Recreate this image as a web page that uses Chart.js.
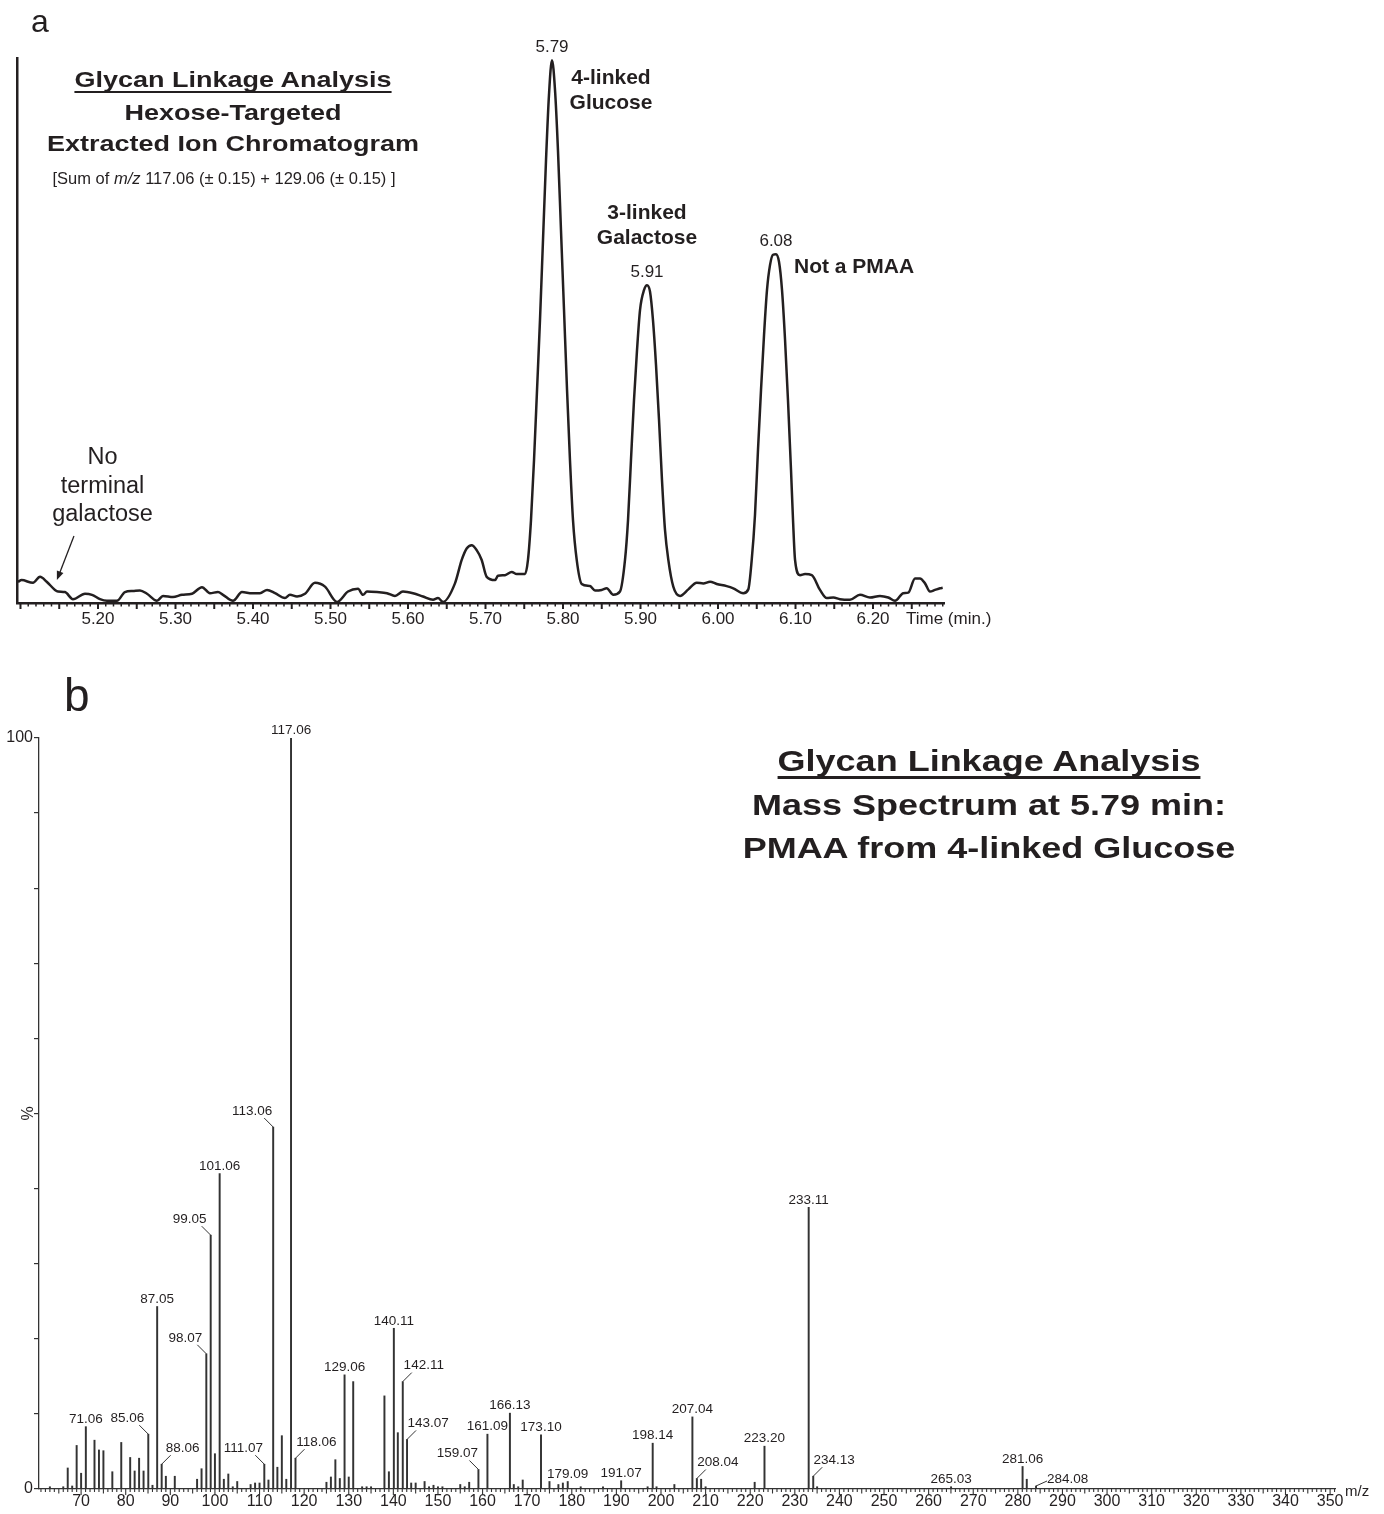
<!DOCTYPE html>
<html>
<head>
<meta charset="utf-8">
<title>Glycan linkage analysis</title>
<script src="https://cdn.jsdelivr.net/npm/chart.js@4.4.1/dist/chart.umd.min.js"></script>
<style>
  html, body { margin: 0; padding: 0; background: #fff; }
  body { position: relative; width: 1384px; height: 1514px; overflow: hidden;
         font-family: 'Liberation Sans', Arial, Helvetica, sans-serif; color: #231f20; }
  canvas { position: absolute; left: 0; }
  #chromCanvas { top: 0; }
  #specCanvas { top: 650px; }
  .t { position: absolute; line-height: 1; white-space: nowrap; }
  .c { transform: translateX(-50%); }
  .w { transform: translateX(-50%) scaleX(1.2); }
  .b { font-weight: bold; }
  .u { text-decoration: underline; text-decoration-skip-ink: none; }
</style>
</head>
<body>
<canvas id="chromCanvas" width="1384" height="650"></canvas>
<canvas id="specCanvas" width="1384" height="864"></canvas>

<!-- panel a text -->
<div class="t" style="left:31px; top:5px; font-size:32px;">a</div>
<div class="t b w u" style="left:233px; top:68.5px; font-size:22.5px; text-decoration-thickness:2px; text-underline-offset:4px;">Glycan Linkage Analysis</div>
<div class="t b w" style="left:233px; top:101.5px; font-size:22.5px;">Hexose-Targeted</div>
<div class="t b w" style="left:233px; top:133px; font-size:22.5px;">Extracted Ion Chromatogram</div>
<div class="t c" style="left:224px; top:169.5px; font-size:16.5px;">[Sum of <i>m/z</i> 117.06 (± 0.15) + 129.06 (± 0.15) ]</div>
<div class="t b c" style="left:611px; top:66px; font-size:21px;">4-linked</div>
<div class="t b c" style="left:611px; top:91px; font-size:21px;">Glucose</div>
<div class="t b c" style="left:647px; top:200.5px; font-size:21px;">3-linked</div>
<div class="t b c" style="left:647px; top:225.5px; font-size:21px;">Galactose</div>
<div class="t b" style="left:794px; top:254.5px; font-size:21px;">Not a PMAA</div>
<div class="t c" style="left:102.5px; top:445px; font-size:23.5px;">No</div>
<div class="t c" style="left:102.5px; top:474px; font-size:23.5px;">terminal</div>
<div class="t c" style="left:102.5px; top:502px; font-size:23.5px;">galactose</div>

<!-- panel b text -->
<div class="t" style="left:64px; top:672px; font-size:46px;">b</div>
<div class="t b w u" style="left:989px; top:745.6px; font-size:30px; text-decoration-thickness:2.5px; text-underline-offset:5px;">Glycan Linkage Analysis</div>
<div class="t b w" style="left:989px; top:789.6px; font-size:30px;">Mass Spectrum at 5.79 min:</div>
<div class="t b w" style="left:989px; top:832.6px; font-size:30px;">PMAA from 4-linked Glucose</div>

<script>
// ---------- panel a: hexose-targeted extracted ion chromatogram ----------
const chromTime = [
  5.0968, 5.1015, 5.1161, 5.1252, 5.1338, 5.1445, 5.1484, 5.1574, 5.1677, 5.1832,
  5.1923, 5.2026, 5.2116, 5.2245, 5.2348, 5.2452, 5.2542, 5.2632, 5.2761, 5.2839,
  5.2968, 5.3084, 5.3213, 5.3342, 5.3445, 5.3548, 5.3613, 5.3742, 5.3858, 5.3987,
  5.4090, 5.4181, 5.4284, 5.4413, 5.4477, 5.4568, 5.4671, 5.4800, 5.4929, 5.5084,
  5.5226, 5.5355, 5.5419, 5.5471, 5.5600, 5.5729, 5.5832, 5.5935, 5.6065, 5.6194,
  5.6323, 5.6387, 5.6452, 5.6606, 5.6693, 5.6757, 5.6822, 5.6886, 5.6951, 5.7015,
  5.7123, 5.7161, 5.7252, 5.7338, 5.7403, 5.7510,
  5.7548, 5.7587, 5.7626, 5.7665, 5.7703, 5.7742, 5.7781, 5.7819, 5.7858, 5.7897,
  5.7935, 5.7974, 5.8013, 5.8052, 5.8090, 5.8129, 5.8177,
  5.8241, 5.8348, 5.8413, 5.8499, 5.8564, 5.8649, 5.8735, 5.8800,
  5.8839, 5.8877, 5.8916, 5.8955, 5.8994, 5.9045, 5.9084, 5.9123, 5.9161, 5.9200,
  5.9239, 5.9277, 5.9316, 5.9359,
  5.9423, 5.9510, 5.9617, 5.9725, 5.9810, 5.9897, 5.9983, 6.0112, 6.0197, 6.0326,
  6.0391, 6.0435,
  6.0477, 6.0516, 6.0555, 6.0594, 6.0632, 6.0671, 6.0710, 6.0748, 6.0787, 6.0826,
  6.0865, 6.0903, 6.0942, 6.0968, 6.0994,
  6.1058, 6.1123, 6.1210, 6.1316, 6.1403, 6.1488, 6.1574, 6.1703, 6.1832, 6.1961,
  6.2090, 6.2197, 6.2284, 6.2391, 6.2455, 6.2542, 6.2606, 6.2671, 6.2735, 6.2800,
  6.2865, 6.2899
];
const chromSignal = [
  3.9, 4.2, 3.7, 4.8, 3.9, 2.4, 2.1, 2.0, 0.7, 1.7,
  1.5, 0.7, 0.4, 0.4, 2.0, 2.2, 2.3, 1.7, 0.4, 1.3,
  1.1, 1.5, 1.7, 2.9, 1.8, 2.0, 1.5, 0.4, 2.0, 1.8,
  1.8, 2.4, 1.8, 0.9, 1.5, 1.2, 1.7, 3.7, 3.0, 0.2,
  2.1, 2.6, 1.5, 2.1, 2.0, 1.8, 1.3, 2.1, 1.8, 1.2,
  0.6, 0.9, 0.2, 3.6, 7.9, 10.0, 10.6, 9.7, 7.9, 4.8,
  4.2, 5.0, 5.1, 5.7, 5.3, 5.3,
  7.9, 15.2, 26.2, 39.1, 51.9, 66.6, 81.3, 93.2, 99.6, 94.1,
  83.1, 68.4, 53.8, 39.1, 26.2, 15.2, 7.9,
  3.5, 3.1, 2.3, 2.4, 2.7, 1.5, 2.1, 7.9,
  15.2, 26.2, 37.2, 46.4, 53.8, 57.4, 58.3, 57.1, 51.9, 43.7,
  33.6, 22.6, 13.4, 7.9,
  3.0, 1.3, 2.5, 3.7, 3.6, 3.9, 3.5, 3.1, 2.7, 1.8,
  2.5, 7.9,
  16.1, 28.1, 39.1, 49.2, 57.4, 62.0, 63.9, 64.0, 62.6, 57.4,
  48.3, 37.2, 24.4, 15.2, 7.9,
  5.1, 5.3, 5.1, 2.4, 0.9, 1.0, 0.7, 0.6, 1.5, 1.0,
  1.3, 1.0, 0.4, 1.8, 1.9, 4.5, 4.5, 3.6, 2.1, 2.4,
  2.7, 2.8
];
const chromTicks = [5.2, 5.3, 5.4, 5.5, 5.6, 5.7, 5.8, 5.9, 6.0, 6.1, 6.2];
const chromPeakTimes = [5.79, 5.91, 6.08];

// ---------- panel b: mass spectrum at 5.79 min ----------
const specMz = [
  63, 66, 67, 68, 69, 70, 71.06, 73, 74, 75,
  77, 79, 81, 82, 83, 84, 85.06, 86, 87.05, 88.06,
  89, 91, 96, 97, 98.07, 99.05, 100, 101.06, 102, 103,
  104, 105, 108, 109, 110, 111.07, 112, 113.06, 114, 115,
  116, 117.06, 118.06, 125, 126, 127, 128, 129.06, 130, 131,
  133, 134, 135, 138, 139, 140.11, 141, 142.11, 143.07, 144,
  145, 147, 148, 149, 150, 151, 155, 156, 157, 159.07,
  161.09, 166.13, 167, 168, 169, 173.10, 175, 177, 178, 179.09,
  182, 187, 191.07, 197, 198.14, 199, 203, 207.04, 208.04, 209,
  210, 221, 223.20, 233.11, 234.13, 235, 265.03, 281.06, 282, 284.08
];
const specPercent = [
  0.3, 0.3, 2.8, 0.4, 5.8, 2.1, 8.3, 6.5, 5.2, 5.1,
  2.3, 6.2, 4.2, 2.4, 4.1, 2.4, 7.3, 0.5, 24.3, 3.3,
  1.7, 1.7, 1.3, 2.7, 18.0, 33.8, 4.7, 42.0, 1.3, 2.0,
  0.3, 1.0, 0.6, 0.8, 0.8, 3.3, 1.2, 48.2, 2.9, 7.1,
  1.3, 100, 4.1, 0.9, 1.6, 3.9, 1.4, 15.2, 1.6, 14.3,
  0.3, 0.3, 0.3, 12.4, 2.3, 21.4, 7.5, 14.3, 6.6, 0.8,
  0.8, 1.0, 0.3, 0.5, 0.3, 0.3, 0.6, 0.3, 0.9, 2.6,
  7.3, 10.1, 0.6, 0.3, 1.2, 7.2, 1.0, 0.6, 0.8, 1.0,
  0.3, 0.3, 1.1, 0.3, 6.1, 0.3, 0.6, 9.6, 1.4, 1.3,
  0.3, 0.9, 5.7, 37.5, 1.7, 0.3, 0.3, 3.0, 1.3, 0.4
];
const specLabelled = [
  71.06, 85.06, 87.05, 88.06, 98.07, 99.05, 101.06, 111.07, 113.06, 117.06,
  118.06, 129.06, 140.11, 142.11, 143.07, 159.07, 161.09, 166.13, 173.10, 179.09,
  191.07, 198.14, 207.04, 208.04, 223.20, 233.11, 234.13, 265.03, 281.06, 284.08
];
const specTicks = [70, 80, 90, 100, 110, 120, 130, 140, 150, 160, 170, 180, 190, 200,
  210, 220, 230, 240, 250, 260, 270, 280, 290, 300, 310, 320, 330, 340, 350];

// label placement for crowded peaks (leader line to the left / right)
const leaderLeft = [85.06, 98.07, 99.05, 111.07, 113.06, 159.07];
const leaderRight = [88.06, 118.06, 142.11, 143.07, 208.04, 234.13];
const leaderFlat = [284.08];

const FONT = "'Liberation Sans', Arial, Helvetica, sans-serif";
const INK = '#231f20';
Chart.defaults.font.family = FONT;
Chart.defaults.color = INK;

// extra drawing for the chromatogram: fine ticks, peak times, arrow, axis name
const chromDecor = {
  id: 'chromDecor',
  afterDraw(chart) {
    const { ctx, chartArea, scales: { x, y } } = chart;
    ctx.save();
    ctx.strokeStyle = INK;
    for (let i = 510; i <= 629; i++) {
      const px = x.getPixelForValue(i / 100);
      const major = i % 5 === 0;
      ctx.lineWidth = major ? 2 : 1.5;
      ctx.beginPath();
      ctx.moveTo(px, chartArea.bottom);
      ctx.lineTo(px, chartArea.bottom + (major ? 6 : 3.5));
      ctx.stroke();
    }

    // retention time above each peak
    ctx.fillStyle = INK;
    ctx.font = '17px ' + FONT;
    ctx.textAlign = 'center';
    ctx.textBaseline = 'alphabetic';
    chromPeakTimes.forEach(t => {
      let best = -1;
      chromTime.forEach((ti, i) => {
        if (Math.abs(ti - t) < 0.012 && (best < 0 || chromSignal[i] > chromSignal[best])) best = i;
      });
      const px = x.getPixelForValue(chromTime[best]);
      const py = y.getPixelForValue(chromSignal[best]);
      ctx.fillText(t.toFixed(2), px, py - 8);
    });

    // axis name at the end of the time axis
    ctx.textAlign = 'left';
    ctx.textBaseline = 'middle';
    ctx.fillText('Time (min.)', chartArea.right - 38, chartArea.bottom + 16);

    // arrow to where terminal galactose would elute
    const x0 = x.getPixelForValue(5.169), y0 = y.getPixelForValue(12.3);
    const x1 = x.getPixelForValue(5.147), y1 = y.getPixelForValue(4.2);
    const ang = Math.atan2(y1 - y0, x1 - x0);
    ctx.lineWidth = 1.3;
    ctx.beginPath();
    ctx.moveTo(x0, y0);
    ctx.lineTo(x1 - 6 * Math.cos(ang), y1 - 6 * Math.sin(ang));
    ctx.stroke();
    ctx.beginPath();
    ctx.moveTo(x1, y1);
    ctx.lineTo(x1 - 9 * Math.cos(ang) + 3.5 * Math.sin(ang), y1 - 9 * Math.sin(ang) - 3.5 * Math.cos(ang));
    ctx.lineTo(x1 - 9 * Math.cos(ang) - 3.5 * Math.sin(ang), y1 - 9 * Math.sin(ang) + 3.5 * Math.cos(ang));
    ctx.closePath();
    ctx.fill();
    ctx.restore();
  }
};

new Chart(document.getElementById('chromCanvas'), {
  type: 'line',
  data: {
    datasets: [{
      data: chromTime.map((t, i) => ({ x: t, y: chromSignal[i] })),
      borderColor: INK,
      borderWidth: 2.5,
      pointRadius: 0,
      cubicInterpolationMode: 'monotone',
      fill: false
    }]
  },
  options: {
    responsive: false,
    animation: false,
    events: [],
    layout: { padding: { left: 17, top: 58, right: 440, bottom: 0 } },
    plugins: { legend: { display: false }, tooltip: { enabled: false } },
    scales: {
      x: {
        type: 'linear',
        min: 5.0955,
        max: 6.2916,
        afterBuildTicks: s => { s.ticks = chromTicks.map(v => ({ value: v })); },
        afterFit: s => { s.height = 47; },
        grid: { display: false, drawTicks: false },
        border: { display: true, color: INK, width: 2.5 },
        ticks: { font: { size: 17 }, padding: 6, maxRotation: 0, autoSkip: false,
                 callback: v => Number(v).toFixed(2) }
      },
      y: {
        min: 0,
        max: 100,
        afterFit: s => { s.width = 0; },
        grid: { display: false, drawTicks: false },
        border: { display: true, color: INK, width: 2.5 },
        ticks: { display: false }
      }
    }
  },
  plugins: [chromDecor]
});

// extra drawing for the spectrum: fine ticks, peak labels with leaders, axis name
const specDecor = {
  id: 'specDecor',
  afterDraw(chart) {
    const { ctx, chartArea, scales: { x, y } } = chart;
    ctx.save();
    ctx.strokeStyle = '#333';
    ctx.lineWidth = 1.1;
    for (let m = 61; m <= 351; m++) {
      const px = x.getPixelForValue(m);
      const len = m % 10 === 0 ? 6 : (m % 5 === 0 ? 4.5 : 3);
      ctx.beginPath();
      ctx.moveTo(px, chartArea.bottom);
      ctx.lineTo(px, chartArea.bottom + len);
      ctx.stroke();
    }

    ctx.fillStyle = INK;
    ctx.font = '13.5px ' + FONT;
    ctx.textBaseline = 'middle';
    ctx.lineWidth = 1;
    specLabelled.forEach(m => {
      const i = specMz.indexOf(m);
      const px = x.getPixelForValue(m);
      const top = y.getPixelForValue(specPercent[i]);
      const text = m.toFixed(2);
      if (leaderLeft.includes(m) || leaderRight.includes(m)) {
        const dir = leaderLeft.includes(m) ? -1 : 1;
        ctx.beginPath();
        ctx.moveTo(px, top);
        ctx.lineTo(px + dir * 9, top - 9);
        ctx.stroke();
        ctx.textAlign = 'center';
        ctx.fillText(text, px + dir * 21, top - 16);
      } else if (leaderFlat.includes(m)) {
        ctx.beginPath();
        ctx.moveTo(px, top);
        ctx.lineTo(px + 11, top - 5);
        ctx.stroke();
        ctx.textAlign = 'left';
        ctx.fillText(text, px + 11, top - 7);
      } else {
        ctx.textAlign = 'center';
        ctx.fillText(text, px, top - 7.5);
      }
    });

    ctx.font = '15px ' + FONT;
    ctx.textAlign = 'left';
    ctx.fillText('m/z', chartArea.right + 10, chartArea.bottom + 3);
    ctx.restore();
  }
};

new Chart(document.getElementById('specCanvas'), {
  type: 'bar',
  data: {
    datasets: [{
      data: specMz.map((m, i) => ({ x: m, y: specPercent[i] })),
      backgroundColor: '#333',
      borderWidth: 0,
      barThickness: 1.3
    }]
  },
  options: {
    responsive: false,
    animation: false,
    events: [],
    layout: { padding: { left: 0, top: 88, right: 49, bottom: 0 } },
    plugins: { legend: { display: false }, tooltip: { enabled: false } },
    scales: {
      x: {
        type: 'linear',
        offset: false,
        min: 60.56,
        max: 351.1,
        afterBuildTicks: s => { s.ticks = specTicks.map(v => ({ value: v })); },
        afterFit: s => { s.height = 25; },
        grid: { display: false, drawTicks: false },
        border: { display: true, color: '#333', width: 1.3 },
        ticks: { font: { size: 16 }, padding: 3, maxRotation: 0, autoSkip: false }
      },
      y: {
        min: 0,
        max: 100,
        afterFit: s => { s.width = 39; },
        grid: { display: true, drawOnChartArea: false, drawTicks: true, tickLength: 5,
                color: '#333', lineWidth: 1.2 },
        border: { display: true, color: '#333', width: 1.3 },
        title: { display: true, text: '%', font: { size: 16 }, padding: { top: 19, bottom: 0 } },
        ticks: { stepSize: 10, font: { size: 16 }, padding: 1,
                 callback: v => (v === 0 || v === 100) ? String(v) : '' }
      }
    }
  },
  plugins: [specDecor]
});
</script>
</body>
</html>
